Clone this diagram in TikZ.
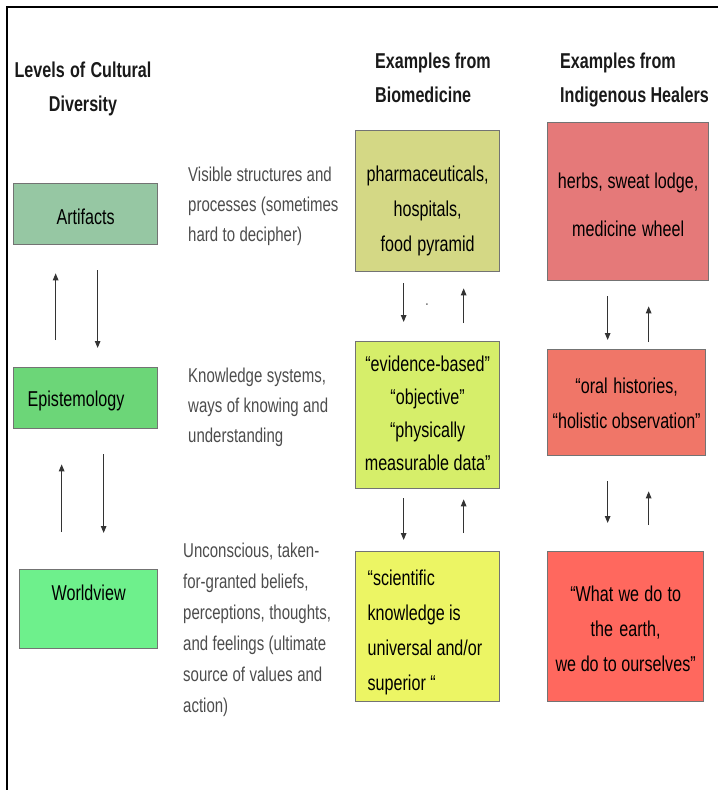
\documentclass[tikz,border=0pt]{standalone}
\usepackage{fontspec}
\setmainfont{Liberation Sans}[FakeStretch=0.75]
\usetikzlibrary{arrows.meta}
\definecolor{artfill}{HTML}{96C7A3}
\definecolor{epifill}{HTML}{6CD678}
\definecolor{wvfill}{HTML}{6EF08C}
\definecolor{bioA}{HTML}{D4D885}
\definecolor{bioB}{HTML}{D6EE6A}
\definecolor{bioC}{HTML}{ECF564}
\definecolor{indA}{HTML}{E57979}
\definecolor{indB}{HTML}{F07668}
\definecolor{indC}{HTML}{FF685E}
% narrow word spaces to go with the condensed letters
\newcommand\tightspace{\spaceskip=4.4pt plus 2pt minus 1pt\xspaceskip=4.6pt plus 2pt minus 1pt\relax}
\tikzset{
  frame line/.style={draw=black, line width=2.4pt},
  % column headings
  heading/.style={
    font=\fontsize{21.5}{34.5}\selectfont\bfseries,
    execute at begin node=\tightspace,
    text=black!90, inner sep=0pt, anchor=base west,
    align=left, text width=175pt
  },
  % grey explanation beside each level
  note/.style={
    font=\fontsize{20}{30}\selectfont,
    execute at begin node=\tightspace,
    text=black!70, inner sep=0pt, anchor=base west,
    align=left, text width=170pt
  },
  % coloured boxes
  cell/.style={
    draw=black!55, line width=1.3pt,
    inner ysep=0pt, inner xsep=4pt, anchor=north west,
    font=\fontsize{21.5}{35}\selectfont, text=black,
    execute at begin node=\tightspace,
    align=center
  },
  cell size/.style n args={3}{text width=#1, text height=#2, text depth=#3},
  updown/.style={draw=black!80, line width=1.1pt, -{Triangle[length=7pt,width=5.5pt]}}
}

\begin{document}
\begin{tikzpicture}[x=1pt, y=-1pt]
  \useasboundingbox (0,0) rectangle (718,790);
  \draw[frame line] (7,790) -- (7,7) -- (718,7);

  % headings
  \node[heading, anchor=base, align=center] (levels) at (83,77) {Levels of Cultural\\Diversity};
  \node[heading] (biohead) at (375,68) {Examples from\\Biomedicine};
  \node[heading] (indhead) at (560,68) {Examples from\\Indigenous Healers};

  % levels
  \node[cell, fill=artfill, cell size={136pt}{41pt}{20pt}] (art) at (13,183) {Artifacts};
  \node[cell, fill=epifill, inner xsep=14pt, align=left, cell size={116pt}{39pt}{22pt}] (epi) at (13,367) {Epistemology};
  \node[cell, fill=wvfill, cell size={130pt}{31pt}{48pt}] (wv) at (19,569) {Worldview};

  \node[note] (artnote) at (188,181) {Visible structures and\\processes (sometimes\\hard to decipher)};
  \node[note] (epinote) at (188,382) {Knowledge systems,\\ways of knowing and\\understanding};
  \node[note, font=\fontsize{20}{31}\selectfont] (wvnote) at (183,557) {Unconscious, taken-\\for-granted beliefs,\\perceptions, thoughts,\\and feelings (ultimate\\source of values and\\action)};

  % biomedicine
  \node[cell, fill=bioA, cell size={136pt}{51pt}{90pt}] (bio1) at (355,130) {pharmaceuticals,\\hospitals,\\food pyramid};
  \node[cell, fill=bioB, font=\fontsize{21.5}{33}\selectfont, cell size={136pt}{30pt}{117pt}] (bio2) at (355,341) {“evidence-based”\\“objective”\\“physically\\measurable data”};
  \node[cell, fill=bioC, inner xsep=12pt, align=left, cell size={120pt}{34pt}{116pt}] (bio3) at (355,551) {“scientific\\knowledge is\\universal and/or\\superior “};
  \node[inner sep=0pt, anchor=base, font=\fontsize{16}{16}\selectfont, text=black!70] (stray) at (427,305) {.};

  % indigenous healers
  \node[cell, fill=indA, cell size={153pt}{66pt}{92pt}] (ind1) at (547,122) {herbs, sweat lodge,\\[13pt]medicine wheel};
  \node[cell, fill=indB, inner xsep=2pt, cell size={154pt}{44pt}{62pt}] (ind2) at (547,349) {“oral histories,\\“holistic observation”};
  \node[cell, fill=indC, cell size={148pt}{50pt}{100pt}] (ind3) at (547,551) {“What we do to\\the earth,\\we do to ourselves”};

  % arrows between levels
  \draw[updown, shorten <=27pt, shorten >=28pt] ([xshift=-30pt]epi.north) -- ([xshift=-30pt]art.south);
  \draw[updown, shorten <=25pt, shorten >=19pt] ([xshift=12pt]art.south) -- ([xshift=12pt]epi.north);
  \draw[updown, shorten <=37pt, shorten >=35pt] ([xshift=-27pt]wv.north) -- ([xshift=-24pt]epi.south);
  \draw[updown, shorten <=25pt, shorten >=36pt] ([xshift=18pt]epi.south) -- ([xshift=15pt]wv.north);

  \draw[updown, shorten <=11pt, shorten >=19pt] ([xshift=-24pt]bio1.south) -- ([xshift=-24pt]bio2.north);
  \draw[updown, shorten <=18pt, shorten >=16pt] ([xshift=36pt]bio2.north) -- ([xshift=36pt]bio1.south);
  \draw[updown, shorten <=9pt, shorten >=11pt] ([xshift=-24pt]bio2.south) -- ([xshift=-24pt]bio3.north);
  \draw[updown, shorten <=18pt, shorten >=10pt] ([xshift=36pt]bio3.north) -- ([xshift=36pt]bio2.south);

  \draw[updown, shorten <=15pt, shorten >=9pt] ([xshift=-20.5pt]ind1.south) -- ([xshift=-19pt]ind2.north);
  \draw[updown, shorten <=7pt, shorten >=25pt] ([xshift=22pt]ind2.north) -- ([xshift=20.5pt]ind1.south);
  \draw[updown, shorten <=25pt, shorten >=28pt] ([xshift=-19pt]ind2.south) -- ([xshift=-18pt]ind3.north);
  \draw[updown, shorten <=26pt, shorten >=35pt] ([xshift=23pt]ind3.north) -- ([xshift=22pt]ind2.south);
\end{tikzpicture}
\end{document}
